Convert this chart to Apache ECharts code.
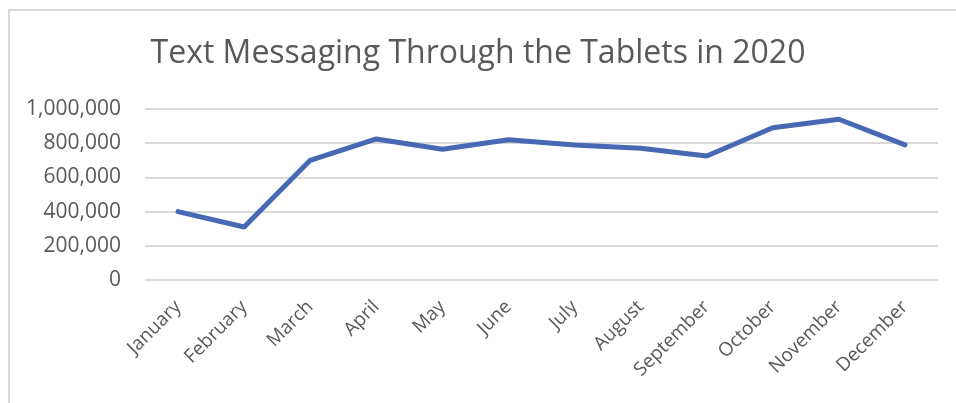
<!DOCTYPE html>
<html>
<head>
<meta charset="utf-8">
<script src="https://cdn.jsdelivr.net/npm/echarts@6/dist/echarts.min.js"></script>
<style>
    html, body { margin: 0; padding: 0; background: #fff; }
    #frame {
        position: absolute; left: 8px; top: 9px; right: 0; bottom: 0;
        border-top: 2px solid #d9d9d9; border-left: 2px solid #d9d9d9;
    }
    #chart { position: absolute; left: 0; top: 0; width: 956px; height: 403px; }
</style>
</head>
<body>
<div id="frame"></div>
<div id="chart"></div>
<script>
// chart data
const months = ['January', 'February', 'March', 'April', 'May', 'June',
    'July', 'August', 'September', 'October', 'November', 'December'];
const messages = [400000, 310000, 700000, 825000, 765000, 820000,
    790000, 770000, 725000, 890000, 940000, 790000];

const chart = echarts.init(document.getElementById('chart'));

const option = {
    backgroundColor: 'transparent',
    title: {
        text: 'Text Messaging Through the Tablets in 2020',
        left: 'center',
        top: 33,
        textStyle: {
            color: '#595959',
            fontFamily: 'Open Sans',
            fontWeight: 'normal',
            fontSize: 32
        }
    },
    grid: {
        left: 145,
        right: 18,
        top: 109,
        bottom: 123
    },
    xAxis: {
        type: 'category',
        data: months,
        boundaryGap: true,
        axisLine: { show: false },
        axisTick: { show: false },
        axisLabel: {
            rotate: 45,
            interval: 0,
            margin: 24,
            color: '#595959',
            fontFamily: 'Open Sans',
            fontSize: 19
        }
    },
    yAxis: {
        type: 'value',
        min: 0,
        max: 1000000,
        interval: 200000,
        axisLine: { show: false },
        axisTick: { show: false },
        axisLabel: {
            margin: 24,
            color: '#595959',
            fontFamily: 'Open Sans',
            fontSize: 21,
            formatter: v => v.toLocaleString('en-US')
        },
        splitLine: {
            lineStyle: { color: '#d9d9d9', width: 2 }
        }
    },
    series: [
        {
            name: 'Messages',
            type: 'line',
            data: messages,
            symbol: 'none',
            lineStyle: {
                color: '#4768b3',
                width: 5,
                cap: 'round',
                join: 'round'
            }
        }
    ]
};

chart.setOption(option);
</script>
</body>
</html>
